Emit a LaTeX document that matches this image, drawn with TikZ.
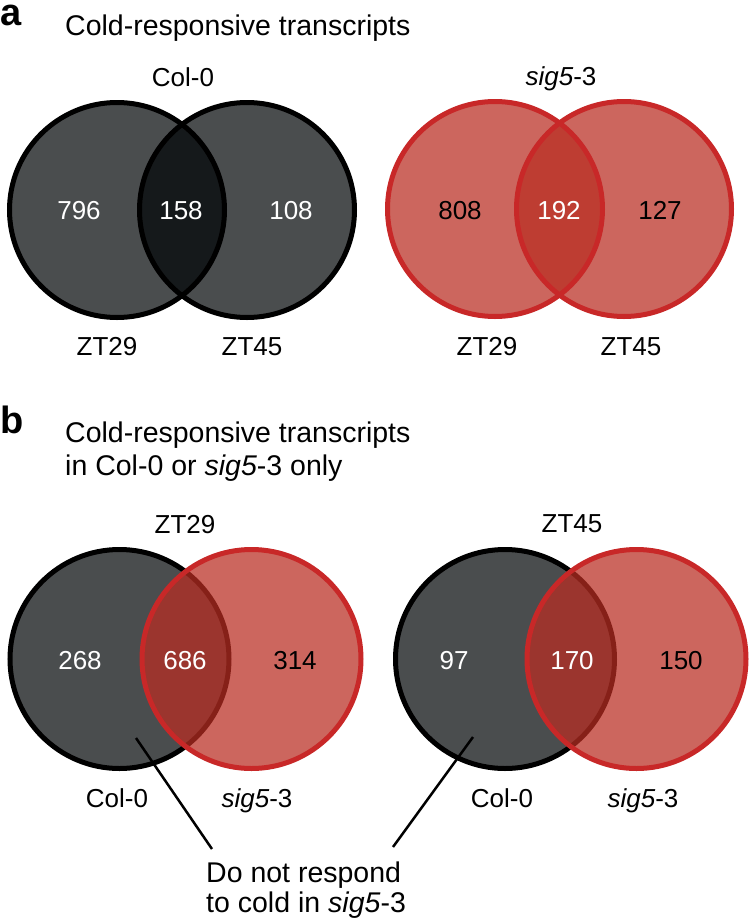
\documentclass[tikz,border=0pt]{standalone}
\usepackage{fontspec}
\setmainfont{Liberation Sans}
\definecolor{venngray}{RGB}{0,4,6}
\definecolor{vennred}{RGB}{185,45,34}
\definecolor{ringred}{RGB}{200,40,40}
\begin{document}
\begin{tikzpicture}[x=1pt,y=-1pt,
  lbl/.style={inner sep=0pt, anchor=base, font=\fontsize{26}{30}\selectfont},
  ttl/.style={inner sep=0pt, anchor=base west, font=\fontsize{28.5}{33}\selectfont},
  num/.style={inner sep=0pt, anchor=base, font=\fontsize{26}{30}\selectfont},
  pan/.style={inner sep=0pt, anchor=base west, font=\bfseries\fontsize{38}{38}\selectfont},
  grayfill/.style={fill=venngray, fill opacity=0.71},
  redfill/.style={fill=vennred, fill opacity=0.73},
  blackring/.style={draw=black, line width=5pt},
  redring/.style={draw=ringred, line width=5pt},
  leader/.style={draw=black, line width=2.5pt}
]
\useasboundingbox (0,0) rectangle (750,919);

% ---------- panel a ----------
\node[pan] (pa) at (0,25) {a};
\node[ttl] (ta) at (65,35) {Cold-responsive transcripts};

\coordinate (aL) at (117,210);
\coordinate (aR) at (247,210);
\fill[grayfill] (aL) circle[radius=107.5pt];
\fill[grayfill] (aR) circle[radius=107.5pt];
\draw[blackring] (aL) circle[radius=107.5pt];
\draw[blackring] (aR) circle[radius=107.5pt];
\node[lbl] (acol) at (183,86) {Col-0};
\node[num, text=white] (n796) at (79,219) {796};
\node[num, text=white] (n158) at (181,219) {158};
\node[num, text=white] (n108) at (291,219) {108};
\node[lbl] (azt29a) at (107,355) {ZT29};
\node[lbl] (azt45a) at (252,355) {ZT45};

\coordinate (sL) at (495,209);
\coordinate (sR) at (624,209);
\fill[redfill] (sL) circle[radius=107.5pt];
\fill[redfill] (sR) circle[radius=107.5pt];
\draw[redring] (sL) circle[radius=107.5pt];
\draw[redring] (sR) circle[radius=107.5pt];
\node[lbl] (asig) at (561,85) {\textit{sig5}-3};
\node[num] (n808) at (460,219) {808};
\node[num, text=white] (n192) at (559,219) {192};
\node[num] (n127) at (660,219) {127};
\node[lbl] (azt29b) at (487,355) {ZT29};
\node[lbl] (azt45b) at (631,355) {ZT45};

% ---------- panel b ----------
\node[pan] (pb) at (0,433) {b};
\node[ttl] (tb1) at (65,442) {Cold-responsive transcripts};
\node[ttl] (tb2) at (65,475) {in Col-0 or \textit{sig5}-3 only};

\coordinate (bLk) at (119.5,659);
\coordinate (bLr) at (251.5,659);
\fill[venngray, fill opacity=0.71] (bLk) circle[radius=109.5pt];
\draw[blackring] (bLk) circle[radius=109.5pt];
\fill[redfill] (bLr) circle[radius=109.5pt];
\draw[redring] (bLr) circle[radius=109.5pt];
\node[lbl] (bzt29) at (185,533) {ZT29};
\node[num, text=white] (n268) at (80,669) {268};
\node[num, text=white] (n686) at (185,669) {686};
\node[num] (n314) at (295,669) {314};
\node[lbl] (bcol1) at (117,807) {Col-0};
\node[lbl] (bsig1) at (257,807) {\textit{sig5}-3};

\coordinate (bRk) at (505,659);
\coordinate (bRr) at (636.5,659);
\fill[venngray, fill opacity=0.71] (bRk) circle[radius=109.5pt];
\draw[blackring] (bRk) circle[radius=109.5pt];
\fill[redfill] (bRr) circle[radius=109.5pt];
\draw[redring] (bRr) circle[radius=109.5pt];
\node[lbl] (bzt45) at (572,532) {ZT45};
\node[num, text=white] (n97) at (454,669) {97};
\node[num, text=white] (n170) at (572,669) {170};
\node[num] (n150) at (681,669) {150};
\node[lbl] (bcol2) at (502,807) {Col-0};
\node[lbl] (bsig2) at (643,807) {\textit{sig5}-3};

% ---------- callout ----------
\node[ttl] (dnr1) at (206,882) {Do not respond};
\node[ttl] (dnr2) at (206,912) {to cold in \textit{sig5}-3};
\coordinate (leadA1) at (136,738);
\coordinate (leadA2) at (212,849);
\coordinate (leadB1) at (473,737);
\coordinate (leadB2) at (393,847);
\draw[leader] (leadA1) -- (leadA2);
\draw[leader] (leadB1) -- (leadB2);
\end{tikzpicture}
\end{document}
